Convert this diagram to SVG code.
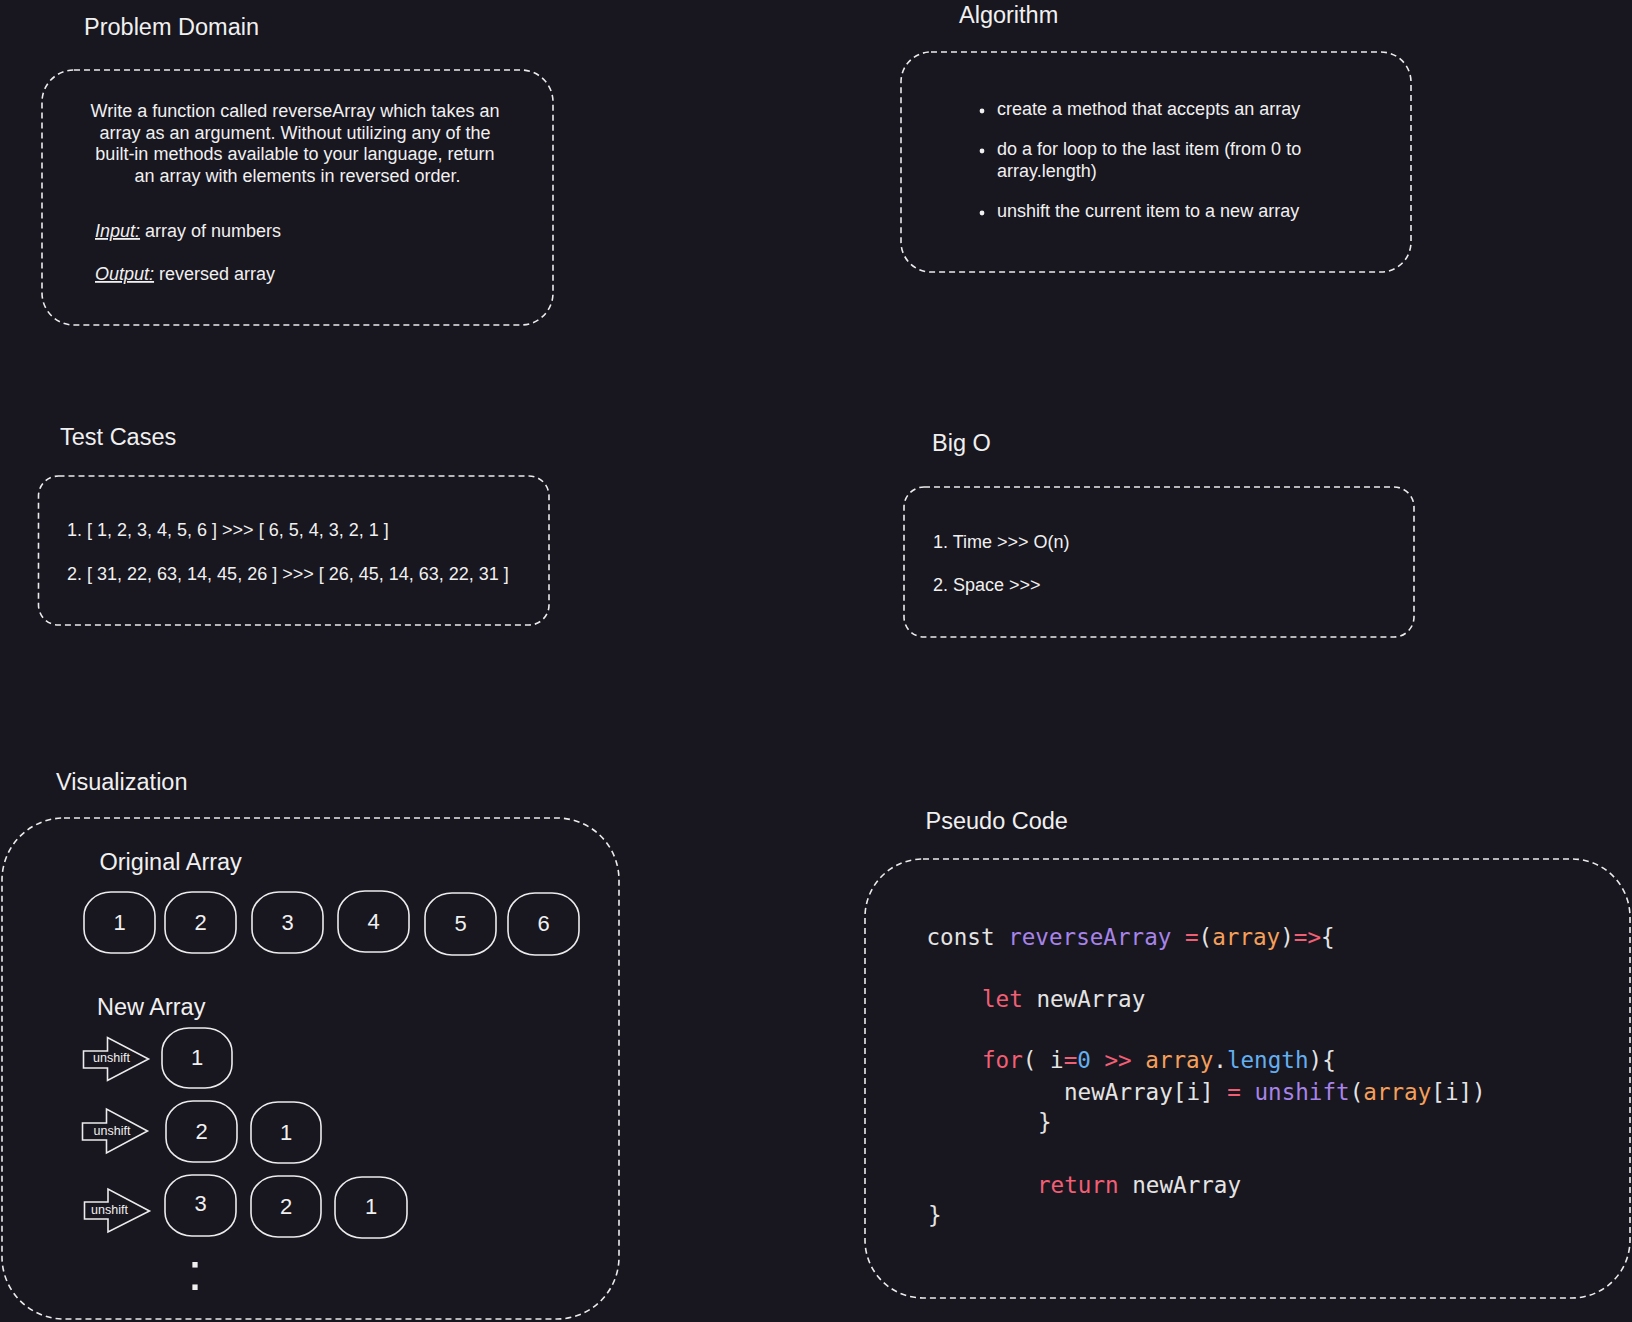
<svg xmlns="http://www.w3.org/2000/svg" width="1632" height="1322" viewBox="0 0 1632 1322">
<style>
.bg{fill:#18161f}
.box{fill:none;stroke:#ececec;stroke-width:1.6;stroke-dasharray:6 4}
.title{font-family:"Liberation Sans",Arial,sans-serif;font-size:23.5px;fill:#f0f0f0}
.body{font-family:"Liberation Sans",Arial,sans-serif;font-size:18px;fill:#f0f0f0}
.cell{fill:none;stroke:#ececec;stroke-width:1.6}
.num{font-family:"Liberation Sans",Arial,sans-serif;font-size:22px;fill:#f0f0f0;text-anchor:middle}
.arrow{fill:none;stroke:#ececec;stroke-width:1.6;stroke-linejoin:miter}
.small{font-family:"Liberation Sans",Arial,sans-serif;font-size:12.5px;fill:#f0f0f0;text-anchor:middle}
.code{font-family:"DejaVu Sans Mono","Liberation Mono",monospace;font-size:22.6px;fill:#e4e4e4;white-space:pre}
.w{fill:#e4e4e4}.p{fill:#f25f75}.o{fill:#f5a05a}.v{fill:#a784e8}.b{fill:#64aff0}
.dot{fill:#f0f0f0}
</style>
<rect class="bg" x="0" y="0" width="1632" height="1322"/>

<g id="problem-domain">
<text class="title" x="84" y="35">Problem Domain</text>
<rect class="box" x="42" y="70" width="511" height="255" rx="32" ry="32"/>
<text class="body" text-anchor="middle">
<tspan x="297.5" y="117">Write a function called reverseArray which takes an</tspan>
<tspan x="297.5" y="138.7">array as an argument. Without utilizing any of the</tspan>
<tspan x="297.5" y="160.4">built-in methods available to your language, return</tspan>
<tspan x="297.5" y="182">an array with elements in reversed order.</tspan>
</text>
<text class="body" x="95" y="237"><tspan font-style="italic" text-decoration="underline">Input:</tspan> array of numbers</text>
<text class="body" x="95" y="280"><tspan font-style="italic" text-decoration="underline">Output:</tspan> reversed array</text>
</g>

<g id="algorithm">
<text class="title" x="959" y="23">Algorithm</text>
<rect class="box" x="901" y="52" width="510" height="220" rx="30" ry="30"/>
<circle class="dot" cx="982" cy="111" r="2.4"/>
<circle class="dot" cx="982" cy="151" r="2.4"/>
<circle class="dot" cx="982" cy="213" r="2.4"/>
<text class="body" x="997" y="115">create a method that accepts an array</text>
<text class="body" x="997" y="155">do a for loop to the last item (from 0 to</text>
<text class="body" x="997" y="177">array.length)</text>
<text class="body" x="997" y="217">unshift the current item to a new array</text>
</g>

<g id="test-cases">
<text class="title" x="60" y="445">Test Cases</text>
<rect class="box" x="38.5" y="476" width="510.5" height="149" rx="20" ry="20"/>
<text class="body" x="67" y="536">1. [ 1, 2, 3, 4, 5, 6 ] &gt;&gt;&gt; [ 6, 5, 4, 3, 2, 1 ]</text>
<text class="body" x="67" y="580">2. [ 31, 22, 63, 14, 45, 26 ] &gt;&gt;&gt; [ 26, 45, 14, 63, 22, 31 ]</text>
</g>

<g id="big-o">
<text class="title" x="932" y="451">Big O</text>
<rect class="box" x="904" y="487" width="510" height="150" rx="20" ry="20"/>
<text class="body" x="933" y="548">1. Time &gt;&gt;&gt; O(n)</text>
<text class="body" x="933" y="591">2. Space &gt;&gt;&gt;</text>
</g>

<g id="visualization">
<text class="title" x="56" y="790">Visualization</text>
<rect class="box" x="2" y="818" width="617" height="501" rx="62" ry="62"/>
<text class="title" x="99.5" y="870">Original Array</text>
<g id="orig-1"><rect class="cell" x="84" y="892" width="71" height="61" rx="27" ry="24"/><text class="num" x="119.5" y="930">1</text></g>
<g id="orig-2"><rect class="cell" x="165" y="892" width="71" height="61" rx="27" ry="24"/><text class="num" x="200.5" y="930">2</text></g>
<g id="orig-3"><rect class="cell" x="252" y="892" width="71" height="61" rx="27" ry="24"/><text class="num" x="287.5" y="930">3</text></g>
<g id="orig-4"><rect class="cell" x="338" y="891" width="71" height="61" rx="27" ry="24"/><text class="num" x="373.5" y="929">4</text></g>
<g id="orig-5"><rect class="cell" x="425" y="893" width="71" height="62" rx="27" ry="24"/><text class="num" x="460.5" y="931">5</text></g>
<g id="orig-6"><rect class="cell" x="508" y="893" width="71" height="62" rx="27" ry="24"/><text class="num" x="543.5" y="931">6</text></g>

<text class="title" x="97" y="1015">New Array</text>

<g id="arrow-1"><path class="arrow" d="M83.5 1051 H107.5 V1037.5 L148.5 1059 L107.5 1080.5 V1068 H83.5 Z"/><text class="small" x="111.5" y="1062">unshift</text></g>
<g id="new1-1"><rect class="cell" x="162" y="1028" width="70" height="60" rx="27" ry="24"/><text class="num" x="197" y="1065">1</text></g>

<g id="arrow-2"><path class="arrow" d="M82.5 1123 H106.5 V1109 L147.5 1131 L106.5 1153 V1140 H82.5 Z"/><text class="small" x="112" y="1135">unshift</text></g>
<g id="new2-2"><rect class="cell" x="166" y="1101" width="71" height="61" rx="27" ry="24"/><text class="num" x="201.5" y="1139">2</text></g>
<g id="new2-1"><rect class="cell" x="251" y="1102" width="70" height="61" rx="27" ry="24"/><text class="num" x="286" y="1140">1</text></g>

<g id="arrow-3"><path class="arrow" d="M84.5 1202 H108 V1189 L149.5 1211 L108 1232 V1219 H84.5 Z"/><text class="small" x="109.5" y="1214">unshift</text></g>
<g id="new3-3"><rect class="cell" x="165" y="1175" width="71" height="61" rx="27" ry="24"/><text class="num" x="200.5" y="1211">3</text></g>
<g id="new3-2"><rect class="cell" x="251" y="1176" width="70" height="61" rx="27" ry="24"/><text class="num" x="286" y="1214">2</text></g>
<g id="new3-1"><rect class="cell" x="335" y="1177" width="72" height="61" rx="27" ry="24"/><text class="num" x="371" y="1214">1</text></g>

<text class="title" x="195" y="1290" text-anchor="middle" style="font-size:54px">:</text>
</g>

<g id="pseudo-code">
<text class="title" x="925.5" y="829">Pseudo Code</text>
<rect class="box" x="865" y="859" width="765" height="439" rx="58" ry="58"/>
<text class="code" x="926.5" y="945"><tspan class="w">const </tspan><tspan class="v">reverseArray</tspan><tspan class="w"> </tspan><tspan class="p">=</tspan><tspan class="w">(</tspan><tspan class="o">array</tspan><tspan class="w">)</tspan><tspan class="p">=&gt;</tspan><tspan class="w">{</tspan></text>
<text class="code" x="982" y="1007"><tspan class="p">let</tspan><tspan class="w"> newArray</tspan></text>
<text class="code" x="982" y="1068"><tspan class="p">for</tspan><tspan class="w">( i</tspan><tspan class="p">=</tspan><tspan class="b">0</tspan><tspan class="w"> </tspan><tspan class="p">&gt;&gt;</tspan><tspan class="w"> </tspan><tspan class="o">array</tspan><tspan class="w">.</tspan><tspan class="b">length</tspan><tspan class="w">){</tspan></text>
<text class="code" x="1064" y="1100"><tspan class="w">newArray[i] </tspan><tspan class="p">=</tspan><tspan class="w"> </tspan><tspan class="v">unshift</tspan><tspan class="w">(</tspan><tspan class="o">array</tspan><tspan class="w">[i])</tspan></text>
<text class="code" x="1038" y="1130">}</text>
<text class="code" x="1037" y="1193"><tspan class="p">return</tspan><tspan class="w"> newArray</tspan></text>
<text class="code" x="928" y="1223">}</text>
</g>
</svg>
